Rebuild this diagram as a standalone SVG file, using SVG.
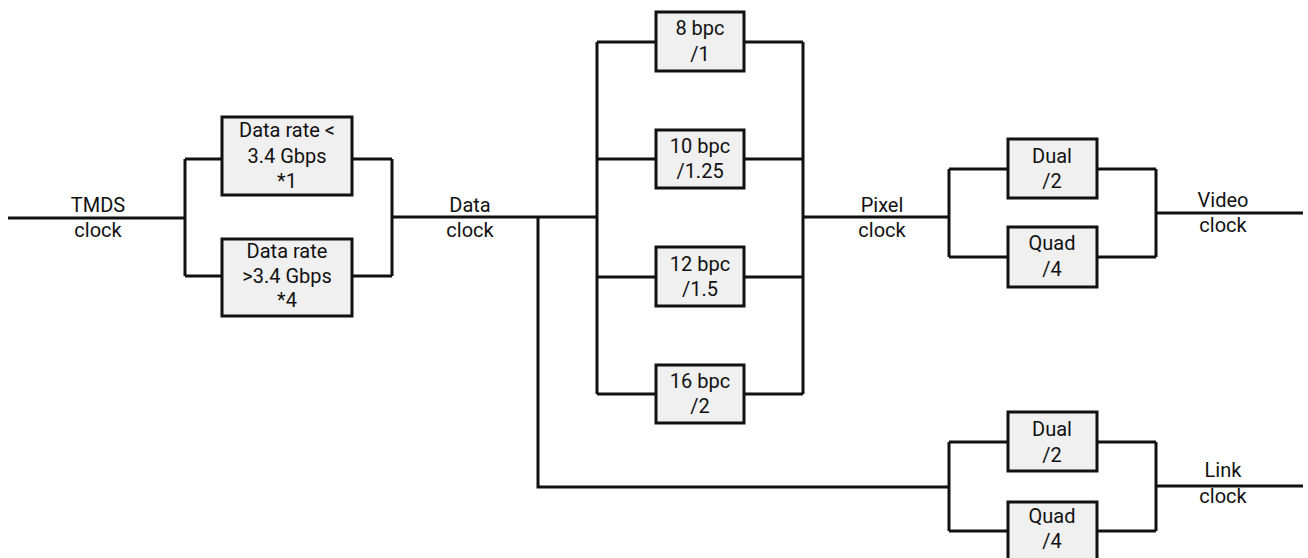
<svg xmlns="http://www.w3.org/2000/svg" width="1308" height="558" viewBox="0 0 1308 558">
<style>
.box{fill:#f0f0f0;stroke:#111;stroke-width:3}
.ln{fill:none;stroke:#111;stroke-width:3}
text{font-family:Roboto,"Liberation Sans",sans-serif;font-size:20px;fill:#111;text-anchor:middle}
</style>
<rect width="1308" height="558" fill="#fff"/>
<g id="connectors">
<path class="ln" d="M8 218H185M185 159V276M185 159H222M185 276H222M352 159H392M352 276H392M392 159V276M392 217H597"/>
<path class="ln" d="M597 42V394M597 42H656M597 159H656M597 277H656M597 394H656M744 42H803M744 159H803M744 277H803M744 394H803M803 42V394M803 217H949"/>
<path class="ln" d="M538 217V487H949"/>
<path class="ln" d="M949 169V257M949 169H1008M949 257H1008M1097 169H1156M1097 257H1156M1156 169V257M1156 213H1303"/>
<path class="ln" d="M949 442V531M949 442H1008M949 531H1008M1097 442H1156M1097 531H1156M1156 442V531M1156 486H1303"/>
</g>
<g id="labels">
<text x="98" y="212">TMDS</text><text x="98" y="237">clock</text>
<text x="470" y="212">Data</text><text x="470" y="237">clock</text>
<text x="882" y="212">Pixel</text><text x="882" y="237">clock</text>
<text x="1223" y="207">Video</text><text x="1223" y="232">clock</text>
<text x="1223" y="477">Link</text><text x="1223" y="503">clock</text>
</g>
<g id="rate-low"><rect class="box" x="222" y="117" width="130" height="78"/><text x="287" y="137">Data rate &lt;</text><text x="287" y="163">3.4 Gbps</text><text x="287" y="188">*1</text></g>
<g id="rate-high"><rect class="box" x="222" y="239" width="130" height="77"/><text x="287" y="258">Data rate</text><text x="287" y="283">&gt;3.4 Gbps</text><text x="287" y="307">*4</text></g>
<g id="bpc8"><rect class="box" x="656" y="12" width="88" height="59"/><text x="700" y="35">8 bpc</text><text x="700" y="61">/1</text></g>
<g id="bpc10"><rect class="box" x="656" y="130" width="88" height="58"/><text x="700" y="153">10 bpc</text><text x="700" y="178">/1.25</text></g>
<g id="bpc12"><rect class="box" x="656" y="247" width="88" height="59"/><text x="700" y="271">12 bpc</text><text x="700" y="296">/1.5</text></g>
<g id="bpc16"><rect class="box" x="656" y="365" width="88" height="58"/><text x="700" y="388">16 bpc</text><text x="700" y="413">/2</text></g>
<g id="dual-video"><rect class="box" x="1008" y="139" width="89" height="59"/><text x="1052" y="163">Dual</text><text x="1052" y="188">/2</text></g>
<g id="quad-video"><rect class="box" x="1008" y="227" width="89" height="60"/><text x="1052" y="250">Quad</text><text x="1052" y="276">/4</text></g>
<g id="dual-link"><rect class="box" x="1008" y="412" width="89" height="59"/><text x="1052" y="436">Dual</text><text x="1052" y="462">/2</text></g>
<g id="quad-link"><rect class="box" x="1008" y="502" width="89" height="60"/><text x="1052" y="523">Quad</text><text x="1052" y="548">/4</text></g>
</svg>
